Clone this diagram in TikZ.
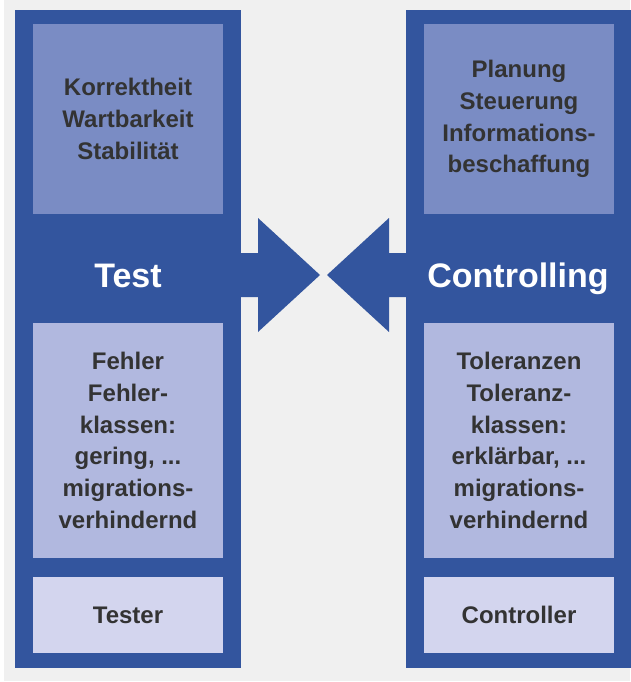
\documentclass[tikz,border=0pt]{standalone}
\usepackage{fontspec}
\setmainfont{Liberation Sans}
\definecolor{frameblue}{RGB}{51,85,158}
\definecolor{topfill}{RGB}{122,140,196}
\definecolor{midfill}{RGB}{177,184,223}
\definecolor{lowfill}{RGB}{211,213,238}
\definecolor{pagegray}{RGB}{240,240,240}
\definecolor{inktext}{RGB}{51,51,51}
\begin{document}
\begin{tikzpicture}[x=1pt,y=-1pt,
  panel/.style={rectangle,inner sep=0pt,outer sep=0pt,anchor=north west},
  column/.style={panel,fill=frameblue},
  infobox/.style={panel,text=inktext,align=center,
    font=\bfseries\fontsize{24}{31.8}\selectfont},
  heading/.style={text=white,inner sep=0pt,anchor=base,
    font=\bfseries\fontsize{34}{40}\selectfont},
  blockarrow/.style={fill=frameblue}]
  % page and background
  \fill[white] (0,0) rectangle (630,682);
  \fill[pagegray] (4,0) rectangle (630,681);
  \useasboundingbox (0,0) rectangle (630,682);

  % the two columns
  \node[column,minimum width=226pt,minimum height=658pt] (lcol) at (15,10) {};
  \node[column,minimum width=226pt,minimum height=658pt] (rcol) at (406,10) {};

  % block arrows pointing at each other
  \fill[blockarrow] (lcol.east |- 0,253) -- (258,253) -- (258,218) -- (320,275)
    -- (258,332) -- (258,297) -- (lcol.east |- 0,297) -- cycle;
  \fill[blockarrow] (rcol.west |- 0,253) -- (389,253) -- (389,218) -- (327,275)
    -- (389,332) -- (389,297) -- (rcol.west |- 0,297) -- cycle;

  % left column: Test
  \node[infobox,fill=topfill,minimum width=190pt,minimum height=190pt] (ltop) at (33,24)
    {Korrektheit\\Wartbarkeit\\Stabilität};
  \node[heading] (ltitle) at (128,287) {Test};
  \node[infobox,fill=midfill,minimum width=190pt,minimum height=235pt] (lmid) at (33,323)
    {Fehler\\Fehler-\\klassen:\\gering, ...\\migrations-\\verhindernd};
  \node[infobox,fill=lowfill,minimum width=190pt,minimum height=76pt] (lbot) at (33,577)
    {Tester};

  % right column: Controlling
  \node[infobox,fill=topfill,minimum width=190pt,minimum height=190pt] (rtop) at (424,24)
    {Planung\\Steuerung\\Informations-\\beschaffung};
  \node[heading] (rtitle) at (518,287) {Controlling};
  \node[infobox,fill=midfill,minimum width=190pt,minimum height=235pt] (rmid) at (424,323)
    {Toleranzen\\Toleranz-\\klassen:\\erklärbar, ...\\migrations-\\verhindernd};
  \node[infobox,fill=lowfill,minimum width=190pt,minimum height=76pt] (rbot) at (424,577)
    {Controller};
\end{tikzpicture}
\end{document}
